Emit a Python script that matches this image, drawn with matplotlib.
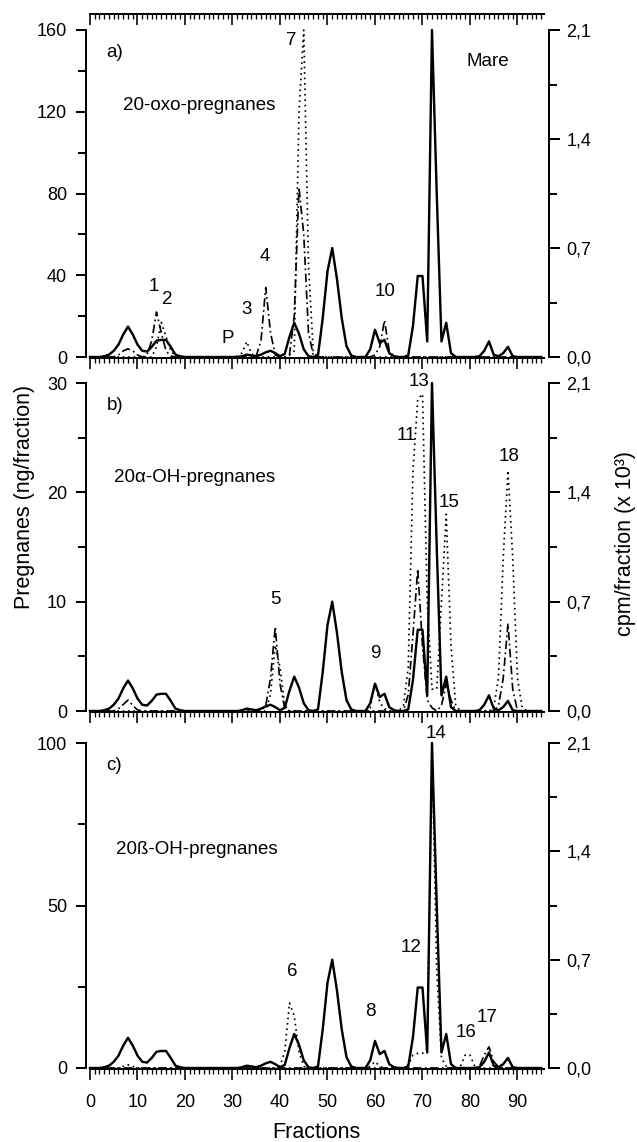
import numpy as np
import matplotlib
matplotlib.use("Agg")
import matplotlib.pyplot as plt
from matplotlib.ticker import MultipleLocator, FixedLocator, NullFormatter

plt.rcParams['font.family'] = ['Liberation Sans', 'DejaVu Sans']

# ---------------- data ----------------
fractions = list(range(96))

# radioactivity (cpm/fraction x 10^3), same profile in all three panels
cpm = [0, 0, 0, 0.005, 0.015, 0.04, 0.08, 0.145, 0.195, 0.145,
       0.08, 0.04, 0.035, 0.065, 0.105, 0.11, 0.11, 0.065, 0.015, 0.005,
       0, 0, 0, 0, 0, 0, 0, 0, 0, 0,
       0, 0, 0.005, 0.015, 0.01, 0.005, 0.015, 0.03, 0.04, 0.025,
       0.005, 0.02, 0.13, 0.22, 0.15, 0.05, 0.005, 0, 0.01, 0.25,
       0.55, 0.70, 0.50, 0.25, 0.07, 0.01, 0, 0, 0, 0.05,
       0.175, 0.09, 0.11, 0.025, 0.005, 0, 0, 0.01, 0.2, 0.52,
       0.52, 0.1, 2.1, 1.05, 0.1, 0.22, 0.025, 0, 0, 0,
       0, 0, 0.005, 0.04, 0.1, 0.015, 0.005, 0.025, 0.065, 0.005,
       0, 0, 0, 0, 0, 0]

# pregnanes (ng/fraction): readings of the peaks, baseline 0 elsewhere
a_dashdot = {6: 1, 7: 3, 8: 4, 9: 3, 10: 1, 12: 1, 13: 8, 14: 22, 15: 12, 16: 3,
             17: 0.5, 35: 0.5, 36: 8, 37: 34, 38: 12, 39: 1, 42: 1, 43: 20,
             44: 83, 45: 60, 46: 12, 47: 1, 60: 1, 61: 5, 62: 18, 63: 3, 64: 0.3}
a_dotted = {14: 5, 15: 17, 16: 10, 17: 3, 18: 0.5, 31: 0.5, 32: 2, 33: 7.5,
            34: 1.5, 35: 0.5, 42: 1, 43: 3, 44: 120, 45: 160, 46: 45, 47: 3}

b_dashdot = {6: 0.2, 7: 0.6, 8: 1, 9: 0.5, 10: 0.1, 37: 0.5, 38: 3, 39: 7.7,
             40: 2.5, 41: 0.2, 67: 1.5, 68: 7, 69: 13, 70: 6, 71: 1, 72: 0.3,
             74: 0.5, 75: 2.5, 76: 1, 86: 0.5, 87: 3, 88: 8, 89: 2}
b_dotted = {38: 1.5, 39: 6, 40: 4, 41: 0.5, 59: 0.3, 60: 2.6, 61: 0.8, 62: 0.2,
            66: 0.5, 67: 4, 68: 22, 69: 28.5, 70: 29, 71: 10, 72: 2, 73: 2,
            74: 10, 75: 18, 76: 6, 77: 0.5, 85: 0.3, 86: 3, 87: 14, 88: 22,
            89: 14, 90: 3, 91: 0.3}

c_dashdot = {82: 0.5, 83: 4, 84: 6.5, 85: 2, 86: 0.3}
c_dotted = {7: 0.5, 8: 1, 9: 0.5, 40: 0.5, 41: 5, 42: 20, 43: 16, 44: 5,
            45: 0.5, 59: 0.5, 60: 2, 61: 0.5, 67: 1, 68: 4, 69: 4.5, 70: 4.5,
            71: 6, 72: 100, 73: 30, 74: 3, 75: 0.5, 78: 0.5, 79: 4, 80: 4,
            81: 0.5}

# axis ticks / labels
left_ticks = [[0, 40, 80, 120, 160], [0, 10, 20, 30], [0, 50, 100]]
left_minor = [[20, 60, 100, 140], [5, 15, 25], [25, 75]]
right_ticks = [0.0, 0.7, 1.4, 2.1]
right_minor = [0.35, 1.05, 1.75]
right_labels = ["0,0", "0,7", "1,4", "2,1"]
x_ticks = [0, 10, 20, 30, 40, 50, 60, 70, 80, 90]
x_labels = ["0", "10", "20", "30", "40", "50", "60", "70", "80", "90"]

panel_letters = ["a)", "b)", "c)"]
panel_titles = ["20-oxo-pregnanes", "20\u03b1-OH-pregnanes", "20\u00df-OH-pregnanes"]

peak_labels = [
    [("1", 13.4, 34.4), ("2", 16.3, 27.9), ("P", 28.9, 9.1), ("3", 32.9, 23),
     ("4", 36.9, 49), ("7", 42.4, 155), ("10", 62.2, 32), ("Mare", 83.8, 144.5)],
    [("5", 39.1, 10.2), ("9", 60.0, 5.3), ("11", 66.5, 25.2), ("13", 69.3, 30.1),
     ("15", 75.6, 19.1), ("18", 88.2, 23.3)],
    [("6", 42.5, 29.6), ("8", 59.1, 17.3), ("12", 67.5, 37.1), ("14", 72.8, 103),
     ("16", 79.2, 10.9), ("17", 83.6, 15.6)],
]


def expand(d):
    arr = np.zeros(len(fractions))
    for k, v in d.items():
        arr[k] = v
    return arr


dashdot = [expand(a_dashdot), expand(b_dashdot), expand(c_dashdot)]
dotted = [expand(a_dotted), expand(b_dotted), expand(c_dotted)]

# ---------------- figure ----------------
W, H = 637, 1142
fig = plt.figure(figsize=(W / 100, H / 100), dpi=100)

px = 72 / 100  # points per pixel
x0, x1 = 90, 543.6
panel_px = [(30, 357), (383, 711), (743, 1068)]
xmax = 95.5

lw_spine = 2 * px
fs_tick = 13
fs_text = 13.5

for i, (ytop, ybot) in enumerate(panel_px):
    ax = fig.add_axes([x0 / W, (H - ybot) / H, (x1 - x0) / W, (ybot - ytop) / H])
    ax2 = ax.twinx()
    ymax = left_ticks[i][-1]
    ax.set_xlim(0, xmax)
    ax.set_ylim(0, ymax)
    ax2.set_ylim(0, 2.1)

    # lines
    ax.plot(fractions, dotted[i], color='black', lw=1.7 * px,
            linestyle=(0, (1, 2.2)), clip_on=False)
    ax.plot(fractions, dashdot[i], color='black', lw=1.7 * px,
            linestyle=(0, (5, 2, 1, 2)), clip_on=False)
    ax2.plot(fractions, cpm, color='black', lw=2.4 * px, clip_on=False)

    # spines
    ax.spines['right'].set_visible(False)
    for s in ['left', 'top', 'bottom']:
        ax2.spines[s].set_visible(False)
    ax.spines['left'].set_position(('outward', 4 * px))
    ax.spines['bottom'].set_position(('outward', 1 * px))
    ax2.spines['right'].set_position(('outward', 5 * px))
    for sp in [ax.spines['left'], ax.spines['bottom'], ax.spines['top'], ax2.spines['right']]:
        sp.set_linewidth(lw_spine)
    if i == 0:
        ax.spines['top'].set_position(('outward', 16 * px))
    else:
        ax.spines['top'].set_visible(False)

    # x ticks
    ax.xaxis.set_major_locator(FixedLocator(x_ticks))
    ax.xaxis.set_minor_locator(MultipleLocator(1))
    ax.tick_params(axis='x', which='major', direction='out', length=11 * px,
                   width=1.6 * px, labelsize=fs_tick, pad=10,
                   top=(i == 0), labeltop=False)
    ax.tick_params(axis='x', which='minor', direction='out', length=5 * px,
                   width=1.3 * px, top=(i == 0))
    if i == 0:
        for t in ax.xaxis.get_major_ticks():
            t.tick2line.set_marker(3)
        for t in ax.xaxis.get_minor_ticks():
            t.tick2line.set_marker(3)
    if i == 2:
        ax.set_xticklabels(x_labels)
    else:
        ax.xaxis.set_major_formatter(NullFormatter())

    # left y ticks
    ax.yaxis.set_major_locator(FixedLocator(left_ticks[i]))
    ax.yaxis.set_minor_locator(FixedLocator(left_minor[i]))
    ax.tick_params(axis='y', which='major', direction='out', length=10 * px,
                   width=2 * px, labelsize=fs_tick, pad=6.5)
    ax.tick_params(axis='y', which='minor', direction='out', length=8 * px,
                   width=2 * px)

    # right y ticks
    ax2.yaxis.set_major_locator(FixedLocator(right_ticks))
    ax2.yaxis.set_minor_locator(FixedLocator(right_minor))
    ax2.set_yticklabels(right_labels)
    ax2.tick_params(axis='y', which='major', direction='out', length=11 * px,
                    width=2 * px, labelsize=fs_tick, pad=5)
    ax2.tick_params(axis='y', which='minor', direction='out', length=8 * px,
                    width=2 * px)

    ax.patch.set_visible(False)
    ax2.patch.set_visible(False)

    # texts
    ax.text(3.5, ymax * 0.93, panel_letters[i], fontsize=fs_text, ha='left', va='center')
    ty = [123.3 / 160, 21.4 / 30, 67.1 / 100][i] * ymax
    tx = [7.0, 5.1, 5.5][i]
    ax.text(tx, ty, panel_titles[i], fontsize=fs_text, ha='left', va='center')
    for (t, fx, fy) in peak_labels[i]:
        ax.text(fx, fy, t, fontsize=fs_text, ha='center', va='center')

fig.text(316 / W, 1 - 1133 / H, "Fractions", fontsize=15.5,
         ha='center', va='center')
fig.text(25 / W, 1 - 497 / H, "Pregnanes (ng/fraction)", rotation=90,
         fontsize=15.5, ha='center', va='center')
fig.text(625 / W, 1 - 543 / H, "cpm/fraction (x 10\u00b3)", rotation=90,
         fontsize=15.5, ha='center', va='center')

fig.savefig("out.png", dpi=100)
